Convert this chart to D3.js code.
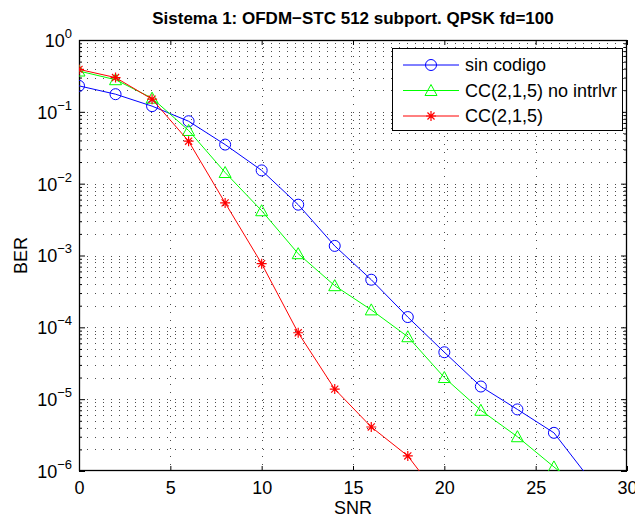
<!DOCTYPE html>
<html><head><meta charset="utf-8">
<script src="https://cdn.jsdelivr.net/npm/d3@7"></script>
<style>
body{margin:0;background:#fff;}
svg{font-family:"Liberation Sans",Arial,Helvetica,sans-serif;}
</style></head>
<body><svg id="c" width="635" height="520"></svg>
<script>
const snr = [0,2,4,6,8,10,12,14,16,18,20,22,24,26,28];
const berSinCodigo = [0.23,0.176,0.12,0.074,0.035,0.0153,0.0051,0.00136,4.6e-4,1.39e-4,4.5e-5,1.5e-5,7.2e-6,3.4e-6,7.5e-7];
const berNoIntrlvr = [0.37,0.28,0.155,0.055,0.0143,0.0042,1.06e-3,3.8e-4,1.75e-4,7.4e-5,2.0e-5,7.0e-6,3.0e-6,1.14e-6,4.4e-7];
const snrCC = [0,2,4,6,8,10,12,14,16,18,20];
const berCC = [0.39,0.30,0.15,0.039,0.0054,7.7e-4,8.4e-5,1.38e-5,4.1e-6,1.62e-6,3.5e-7];
const seriesNames = ["sin codigo","CC(2,1,5) no intrlvr","CC(2,1,5)"];
const xTicks = [0,5,10,15,20,25,30];
const yDecades = [-6,-5,-4,-3,-2,-1,0];
const titleText = "Sistema 1: OFDM\u2212STC 512 subport. QPSK fd=100";

const L=79,R=627,T=40,B=471;
const FS=18;
const svg=d3.select("#c");
const x=d3.scaleLinear().domain([0,30]).range([L,R]);
const y=d3.scaleLog().domain([1e-6,1]).range([B,T]);

svg.append("rect").attr("x",L).attr("y",T).attr("width",R-L).attr("height",B-T).attr("fill","#fff");

// grid
const minorVals=[];
yDecades.slice(0,-1).forEach(d=>{for(let m=1;m<=9;m++)minorVals.push(m*Math.pow(10,d));});
const grid=svg.append("g").attr("stroke","#000").attr("stroke-width",1).attr("stroke-dasharray","1,7").attr("opacity",0.7);
grid.selectAll("line.h").data(minorVals.filter(v=>v>1e-6)).join("line")
 .attr("x1",L).attr("x2",R).attr("y1",d=>Math.round(y(d))+0.5).attr("y2",d=>Math.round(y(d))+0.5);
grid.selectAll("line.v").data(xTicks.filter(v=>v>0&&v<30)).join("line")
 .attr("y1",T).attr("y2",B).attr("x1",d=>Math.round(x(d))+0.5).attr("x2",d=>Math.round(x(d))+0.5);

// axes
const axB=d3.axisBottom(x).tickValues(xTicks).tickSize(-5).tickPadding(10).tickFormat(d3.format("d"));
const axT=d3.axisTop(x).tickValues(xTicks).tickSize(-5).tickFormat("");
const decVals=yDecades.map(d=>Math.pow(10,d));
const axL=d3.axisLeft(y).tickValues(decVals).tickSize(-6).tickPadding(7);
const axR=d3.axisRight(y).tickValues(decVals).tickSize(-6).tickFormat("");
const minorOnly=minorVals.filter(v=>!decVals.includes(v));
const axLm=d3.axisLeft(y).tickValues(minorOnly).tickSize(-3).tickFormat("");
const axRm=d3.axisRight(y).tickValues(minorOnly).tickSize(-3).tickFormat("");
function style(g){g.select(".domain").remove();g.selectAll("line").attr("stroke","#000");g.selectAll("text").attr("fill","#000").attr("font-size",FS).attr("font-family","Liberation Sans, Arial, sans-serif");}
svg.append("g").attr("transform",`translate(0,${B})`).call(axB).call(style);
svg.append("g").attr("transform",`translate(0,${T})`).call(axT).call(style);
const gl=svg.append("g").attr("transform",`translate(${L},0)`).call(axL).call(style);
svg.append("g").attr("transform",`translate(${R},0)`).call(axR).call(style);
svg.append("g").attr("transform",`translate(${L},0)`).call(axLm).call(style);
svg.append("g").attr("transform",`translate(${R},0)`).call(axRm).call(style);
gl.selectAll(".tick text").each(function(d){
  const t=d3.select(this); const e=Math.round(Math.log10(d));
  t.text(null).attr("dy","0.36em");
  t.append("tspan").text("10");
  t.append("tspan").attr("dy","-9").attr("font-size",13).text(e===0?"0":"\u2212"+(-e));
});
svg.append("rect").attr("x",L+0.5).attr("y",T+0.5).attr("width",R-L-1).attr("height",B-T-1).attr("fill","none").attr("stroke","#000").attr("stroke-width",1.3);

// data
svg.append("clipPath").attr("id","pc").append("rect").attr("x",L).attr("y",T).attr("width",R-L).attr("height",B-T);
const plot=svg.append("g").attr("clip-path","url(#pc)");
const series=[
 {xs:snr,ys:berSinCodigo,c:"#0000ff",m:"circle"},
 {xs:snr,ys:berNoIntrlvr,c:"#00ff00",m:"tri"},
 {xs:snrCC,ys:berCC,c:"#ff0000",m:"star"}];
const line=d3.line().x(d=>x(d[0])).y(d=>y(d[1]));
function marker(g,type,c,px,py){
  if(type==="circle") g.append("circle").attr("cx",px).attr("cy",py).attr("r",5.5).attr("fill","none").attr("stroke",c).attr("stroke-width",1);
  else if(type==="tri") g.append("path").attr("d",`M${px},${py-6}L${px+6},${py+5}L${px-6},${py+5}Z`).attr("fill","none").attr("stroke",c).attr("stroke-width",1);
  else { const s=5; let p="";
    [[0,1],[1,0],[0.707,0.707],[0.707,-0.707]].forEach(([a,b])=>{p+=`M${px-a*s},${py-b*s}L${px+a*s},${py+b*s}`;});
    g.append("path").attr("d",p).attr("stroke",c).attr("stroke-width",1.2);}
}
series.forEach(s=>{
  const pts=s.xs.map((v,i)=>[v,s.ys[i]]);
  plot.append("path").datum(pts).attr("d",line).attr("fill","none").attr("stroke",s.c).attr("stroke-width",1);
  pts.forEach(p=>marker(plot,s.m,s.c,x(p[0]),y(p[1])));
});

// legend
const lg=svg.append("g");
lg.append("rect").attr("x",392.5).attr("y",48.5).attr("width",230).attr("height",82).attr("fill","#fff").attr("stroke","#000").attr("stroke-width",1);
series.forEach((s,i)=>{
  const yy=65+i*25.5;
  lg.append("line").attr("x1",403).attr("x2",459).attr("y1",yy).attr("y2",yy).attr("stroke",s.c).attr("stroke-width",1);
  marker(lg,s.m,s.c,431,yy);
  lg.append("text").attr("x",465).attr("y",yy).attr("dy","0.36em").attr("font-size",FS).text(seriesNames[i]);
});

// labels
svg.append("text").attr("x",(L+R)/2).attr("y",24).attr("text-anchor","middle").attr("font-weight","bold").attr("font-size",17).text(titleText);
svg.append("text").attr("x",(L+R)/2).attr("y",514).attr("text-anchor","middle").attr("font-size",FS).text("SNR");
svg.append("text").attr("transform",`translate(27,${(T+B)/2}) rotate(-90)`).attr("text-anchor","middle").attr("font-size",FS).text("BER");
</script></body></html>
